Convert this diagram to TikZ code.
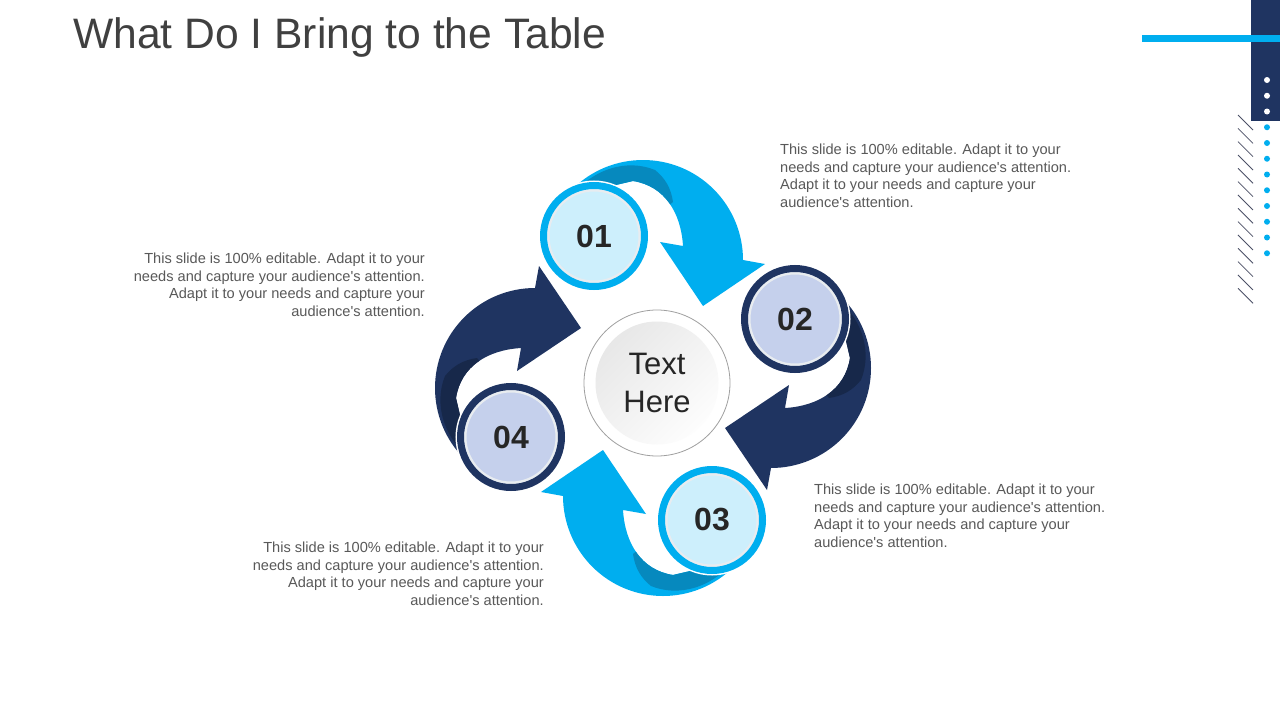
\documentclass[tikz,border=0pt]{standalone}
\usepackage{fontspec}
\setmainfont{Liberation Sans}
\usetikzlibrary{positioning}

\definecolor{cyanA}{HTML}{00AEEF}
\definecolor{cyanD}{HTML}{0689BE}
\definecolor{cyanL}{HTML}{CDEFFC}
\definecolor{navyA}{HTML}{1F3461}
\definecolor{navyD}{HTML}{17284A}
\definecolor{navyL}{HTML}{C5D0EC}
\definecolor{ringlt}{HTML}{E8ECF0}
\definecolor{txtgray}{HTML}{595959}
\definecolor{titlegray}{HTML}{404040}
\definecolor{numgray}{HTML}{262626}
\definecolor{hatchgray}{HTML}{4B5066}

% one bent arrow, drawn round the hub and turned four times
\newcommand{\swirlpath}{(-10,-118) ++(-135:100) arc[start angle=-135,end angle=0,radius=100] -- (112,-114) -- (50,-72) -- (7,-136) -- (30,-132) .. controls (28,-165) and (12,-192) .. (-20,-197) -- (-50,-190) -- cycle}
\newcommand{\swirlshade}{(-85,-178) .. controls (-60,-211) and (-25,-219) .. (2,-208) .. controls (12,-200) and (18,-190) .. (20,-176) -- (0,-160) -- (-120,-160) -- cycle}
\newcommand{\blurb}{This slide is 100\% editable. Adapt it to your\\needs and capture your audience\textquotesingle s attention.\\Adapt it to your needs and capture your\\audience\textquotesingle s attention.}

\begin{document}
\begin{tikzpicture}[x=1pt,y=-1pt,
  numcirc/.style={circle,minimum size=101,inner sep=0,line width=7,preaction={draw=white,line width=10},
    font=\fontsize{32}{38}\selectfont\bfseries,text=numgray,
    path picture={\draw[ringlt,line width=2.5] (path picture bounding box.center) circle[radius=45.75];}},
  bodytxt/.style={font=\fontsize{14.6}{17.8}\selectfont,text=txtgray,inner sep=0}]
\fill[white] (0,0) rectangle (1280,720);
\useasboundingbox (0,0) rectangle (1280,720);

% title
\node[anchor=base west,inner sep=0,font=\fontsize{42.6}{50}\selectfont,text=titlegray] (title) at (73,48) {What Do I Bring to the Table};

% corner decoration
\fill[navyA] (1251,0) rectangle (1280,121);
\fill[cyanA] (1142,35) rectangle (1280,41.5);
\foreach \i in {0,1,2} \fill[white] (1267,{80+15.75*\i}) circle (3);
\foreach \i in {3,...,11} \fill[cyanA] (1267,{80+15.75*\i}) circle (3);
\foreach \i in {0,...,13} \draw[hatchgray,line width=0.8] (1238,{115+13.33*\i}) -- ++(15,15);

% arrows
\foreach \k/\base/\shd in {0/cyanA/cyanD,1/navyA/navyD,2/cyanA/cyanD,3/navyA/navyD}{
  \begin{scope}[shift={(653,378)},rotate=-90*\k]
    \fill[\base] \swirlpath;
    \begin{scope}
      \clip \swirlpath;
      \fill[\shd] \swirlshade;
    \end{scope}
  \end{scope}
}

% numbered circles
\foreach \k/\ring/\inner/\num in {0/cyanA/cyanL/01,1/navyA/navyL/02,2/cyanA/cyanL/03,3/navyA/navyL/04}{
  \begin{scope}[shift={(653,378)},rotate=-90*\k]
    \node[numcirc,draw=\ring,fill=\inner] (n\num) at (-59,-142) {\num};
  \end{scope}
}

% hub
\node[circle,draw=gray!75,line width=0.8,minimum size=146,inner sep=0,align=center,
  font=\fontsize{31}{38}\selectfont,text=numgray,
  path picture={\shade[top color=black!10,bottom color=white,shading angle=45] (path picture bounding box.center) circle[radius=61.5];}] (hub) at (657,383) {Text\\Here};

% texts
\node[bodytxt,anchor=north west,align=left] (txt1) at (780,143.5) {\blurb};
\node[bodytxt,anchor=north east,align=right] (txt4) at (425,252.5) {\blurb};
\node[bodytxt,anchor=north west,align=left] (txt2) at (814,483.5) {\blurb};
\node[bodytxt,anchor=north east,align=right] (txt3) at (544,541.5) {\blurb};
\end{tikzpicture}
\end{document}
